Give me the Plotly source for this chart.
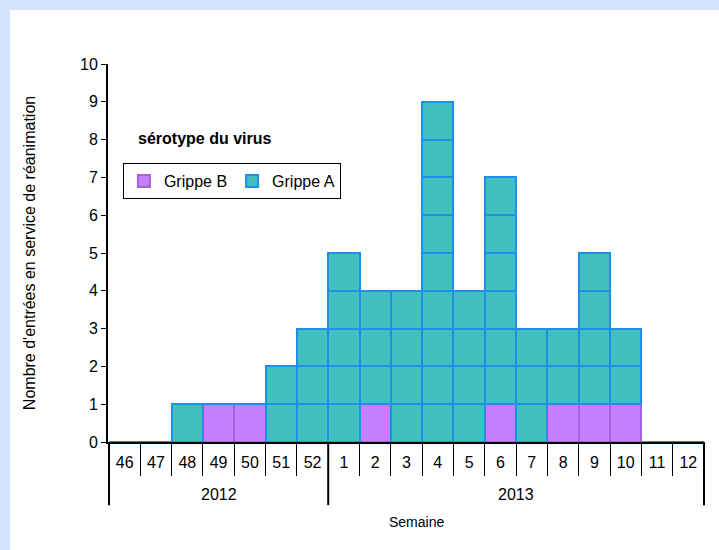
import plotly.graph_objects as go

# semaines et effectifs
annees = ["2012"] * 7 + ["2013"] * 12
semaines = ["46", "47", "48", "49", "50", "51", "52",
            "1", "2", "3", "4", "5", "6", "7", "8", "9", "10", "11", "12"]
grippe_b = [0, 0, 0, 1, 1, 0, 0, 0, 1, 0, 0, 0, 1, 0, 1, 1, 1, 0, 0]
grippe_a = [0, 0, 1, 0, 0, 2, 3, 5, 3, 4, 9, 4, 6, 3, 2, 4, 2, 0, 0]

fig = go.Figure()

# one trace per unit layer so every case is drawn as its own block
series = [("Grippe B", grippe_b, "#C47FFF", "#A860DC"),
          ("Grippe A", grippe_a, "#40C0C0", "#1E90E8")]
for name, vals, fill, edge in series:
    for k in range(max(vals)):
        fig.add_trace(go.Bar(
            x=semaines,
            y=[1 if v > k else 0 for v in vals],
            name=name, legendgroup=name, showlegend=(k == 0),
            marker=dict(color=fill, line=dict(color=edge, width=2)),
        ))

# year groups: divider lines and centred labels under the week labels
bounds = [0] + [i for i in range(1, len(annees)) if annees[i] != annees[i - 1]] + [len(annees)]
shapes = [dict(type="rect", xref="paper", yref="paper", layer="below",
               x0=-98 / 597, x1=1.1, y0=-0.4, y1=(442 - 10) / 378,
               fillcolor="white", line=dict(width=0))]
annotations = [dict(text="<b>sérotype du virus</b>", xref="paper", yref="paper",
                    x=0.047, y=0.804, xanchor="left", yanchor="middle",
                    showarrow=False, font=dict(size=16)),
               dict(text="Semaine", xref="paper", yref="paper",
                    x=0.516, y=-0.2116, xanchor="center", yanchor="middle",
                    showarrow=False, font=dict(size=14))]
for b in bounds:
    shapes.append(dict(type="line", xref="x", yref="paper",
                       x0=b - 0.5, x1=b - 0.5, y0=0, y1=-0.167,
                       line=dict(color="black", width=2)))
for a, b in zip(bounds[:-1], bounds[1:]):
    annotations.append(dict(text=annees[a], xref="x", yref="paper",
                            x=(a + b - 1) / 2, y=-0.1376, xanchor="center",
                            yanchor="middle", showarrow=False, font=dict(size=16)))

fig.update_layout(
    barmode="stack", bargap=0,
    width=719, height=550,
    paper_bgcolor="#D2E3FF", plot_bgcolor="white",
    font=dict(family="Liberation Sans, Arial", size=16, color="black"),
    margin=dict(l=108, r=14, t=64, b=108),
    legend=dict(orientation="h", x=0.025, y=0.738, xanchor="left", yanchor="top",
                bordercolor="black", borderwidth=1, bgcolor="white",
                font=dict(size=16), traceorder="normal"),
    shapes=shapes,
    annotations=annotations,
)
fig.update_yaxes(
    range=[0, 10], dtick=1, showgrid=False, zeroline=False,
    showline=True, linecolor="black", linewidth=2,
    ticks="outside", ticklen=5, tickcolor="black",
    title_text="Nombre d'entrées en service de réanimation",
    title_font=dict(size=16), title_standoff=40,
)
fig.update_xaxes(
    type="category", showgrid=False,
    showline=True, linecolor="black", linewidth=2,
    ticks="outside", tickson="boundaries", ticklen=32, tickcolor="black",
    tickfont=dict(size=16), ticklabelstandoff=5,
)

fig.write_html("out.html", config={"displayModeBar": False},
               post_script="document.body.style.margin = '0';")
